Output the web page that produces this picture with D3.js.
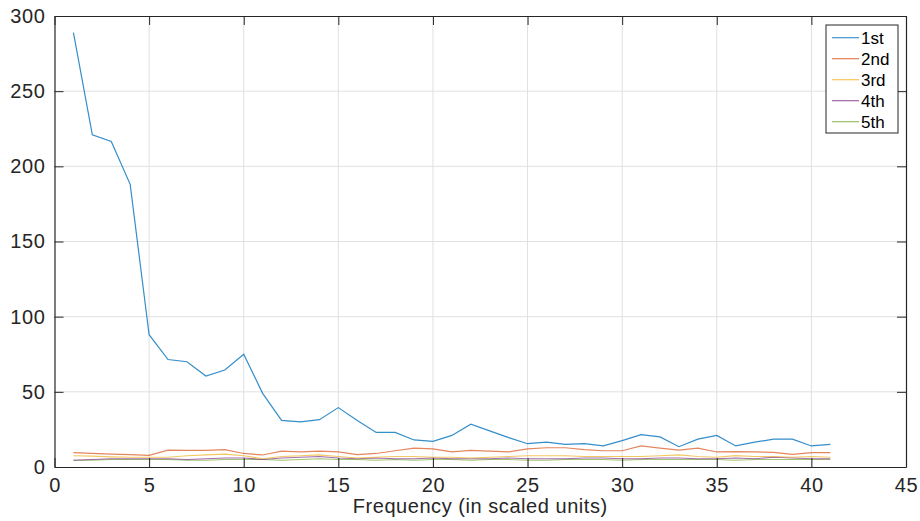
<!DOCTYPE html>
<html>
<head>
<meta charset="utf-8">
<script src="https://cdn.jsdelivr.net/npm/d3@7"></script>
<style>
  body { margin: 0; background: #fff; }
  svg { display: block; font-family: "Liberation Sans", Arial, Helvetica, sans-serif; }
  .grid line { stroke: #e0e0e0; stroke-width: 1; }
</style>
</head>
<body>
<svg id="chart" width="920" height="521"></svg>
<script>
// frequency index 1..41
const freq = d3.range(1, 42);
const seriesNames = ["1st", "2nd", "3rd", "4th", "5th"];
const first = [289, 221, 216.5, 188, 88, 71.5, 70, 60.5, 64.5, 75, 49, 31, 30, 31.5, 39.5, 31, 23, 23, 18, 17,
  21, 28.5, 24, 19.5, 15.5, 16.5, 15, 15.5, 14, 17.5, 21.5, 20, 13.5, 18.5, 21, 14, 16.5, 18.5, 18.5, 14, 15];
const second = [9.5, 9, 8.5, 8.2, 7.8, 11.2, 11, 11, 11.5, 9, 8, 10.5, 10, 10.5, 10, 8.2, 9, 10.8, 12.5, 12,
  10, 11, 10.5, 10, 12, 12.8, 12.8, 11.5, 10.8, 10.8, 14, 12.5, 11.2, 12.6, 10, 10.2, 10, 9.7, 8.4, 9.5, 9.5];
const third = [7.5, 7.2, 6.8, 6.5, 6.5, 6.5, 7.5, 8, 8.5, 7.5, 5.5, 7, 7.5, 8, 7, 6, 6.5, 7, 7, 6.5,
  6.5, 6, 6.5, 7, 7.5, 7.5, 7.5, 7, 7, 7, 7, 7.5, 8, 7, 6.5, 7.5, 7, 7, 6.5, 7, 6.5];
const fourth = [4.5, 5, 5.5, 5.5, 5.5, 5.5, 5, 5.5, 6, 6, 5, 6, 6.5, 7, 6, 5.5, 6, 5.5, 5.5, 6,
  5.5, 5.5, 5.5, 6, 5.5, 5.5, 5.5, 6, 6, 5.5, 5.5, 6, 6, 5.5, 5.5, 6, 5.5, 6.5, 6, 5.5, 5.5];
const fifth = [4.5, 4.5, 5, 5, 5, 5, 4.5, 4.5, 5, 5, 5, 4.5, 5, 5.5, 5, 5, 4.5, 5, 4.5, 5,
  5, 4.5, 5, 5, 4.5, 4.5, 5, 5, 5, 4.5, 5, 5, 5, 5, 5, 4.5, 5, 5, 5, 5, 5];
const xTicks = [0, 5, 10, 15, 20, 25, 30, 35, 40, 45];
const yTicks = [0, 50, 100, 150, 200, 250, 300];
const colors = ["#0072BD", "#D95319", "#EDB120", "#7E2F8E", "#77AC30"];

const allSeries = [first, second, third, fourth, fifth];

const svg = d3.select("#chart");
const mLeft = 54.5, mRight = 906, mTop = 16, mBottom = 467;

const x = d3.scaleLinear().domain([0, 45]).range([mLeft, mRight]);
const y = d3.scaleLinear().domain([0, 300]).range([mBottom, mTop]);

// grid
const grid = svg.append("g").attr("class", "grid");
grid.selectAll(".gx").data(xTicks.slice(1, -1)).join("line")
  .attr("x1", d => x(d)).attr("x2", d => x(d)).attr("y1", mTop).attr("y2", mBottom);
grid.selectAll(".gy").data(yTicks.slice(1, -1)).join("line")
  .attr("y1", d => y(d)).attr("y2", d => y(d)).attr("x1", mLeft).attr("x2", mRight);

// lines (draw last series first so the first stays on top)
const line = d3.line().x((d, i) => x(freq[i])).y(d => y(d));
svg.append("g").selectAll("path")
  .data(allSeries.map((s, i) => ({ s, i })).reverse())
  .join("path")
  .attr("d", d => line(d.s))
  .attr("fill", "none")
  .attr("stroke", d => colors[d.i])
  .attr("stroke-width", 1.2)
  .attr("stroke-opacity", d => d.i === 0 ? 0.8 : 0.7);

// axes (MATLAB-like box with inward ticks)
const axisColor = "#262626";
function styleAxis(g) {
  g.select(".domain").attr("stroke", axisColor).attr("stroke-width", 1.2);
  g.selectAll(".tick line").attr("stroke", axisColor).attr("stroke-width", 1);
  g.selectAll(".tick text").attr("fill", axisColor).attr("font-size", 20)
    .attr("letter-spacing", "0.6px")
    .attr("font-family", "'Liberation Sans', Arial, sans-serif");
}

svg.append("g").attr("transform", `translate(0,${mBottom})`)
  .call(d3.axisBottom(x).tickValues(xTicks).tickSizeInner(-9).tickSizeOuter(0).tickPadding(11))
  .call(styleAxis);
svg.append("g").attr("transform", `translate(0,${mTop})`)
  .call(d3.axisTop(x).tickValues(xTicks).tickSizeInner(-9).tickSizeOuter(0).tickFormat(""))
  .call(styleAxis);
svg.append("g").attr("transform", `translate(${mLeft},0)`)
  .call(d3.axisLeft(y).tickValues(yTicks).tickSizeInner(-9).tickSizeOuter(0).tickPadding(9))
  .call(styleAxis);
svg.append("g").attr("transform", `translate(${mRight},0)`)
  .call(d3.axisRight(y).tickValues(yTicks).tickSizeInner(-9).tickSizeOuter(0).tickFormat(""))
  .call(styleAxis);

// x label
svg.append("text")
  .attr("x", (mLeft + mRight) / 2).attr("y", 513)
  .attr("text-anchor", "middle")
  .attr("font-size", 20)
  .attr("letter-spacing", "0.55px")
  .attr("fill", axisColor)
  .text("Frequency (in scaled units)");

// legend
const lg = svg.append("g").attr("transform", "translate(826,25)");
lg.append("rect").attr("width", 72).attr("height", 108)
  .attr("fill", "#fff").attr("stroke", axisColor).attr("stroke-width", 1);
const items = lg.selectAll(".item").data(seriesNames).join("g")
  .attr("transform", (d, i) => `translate(0,${12.7 + i * 21})`);
items.append("line").attr("x1", 6).attr("x2", 33)
  .attr("stroke", (d, i) => colors[i]).attr("stroke-width", 1.2).attr("stroke-opacity", 0.75);
items.append("text").attr("x", 35).attr("dy", "0.36em")
  .attr("font-size", 17).attr("fill", "#000").text(d => d);
</script>
</body>
</html>
